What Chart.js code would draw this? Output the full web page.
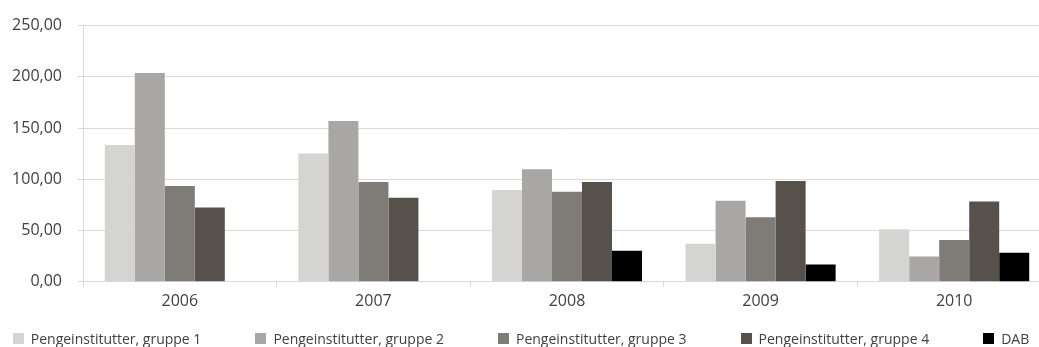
<!DOCTYPE html>
<html>
<head>
<meta charset="utf-8">
<script src="https://cdn.jsdelivr.net/npm/chart.js@4/dist/chart.umd.min.js"></script>
<style>
  html, body { margin: 0; padding: 0; background: #fff; overflow: hidden; }
  #wrap { position: relative; width: 1051px; height: 347px; }
  #legend {
    position: absolute; left: 0; top: 330px; width: 1042px;
    display: flex; justify-content: center; gap: 54px;
    font-family: "Open Sans", sans-serif; font-size: 14px; color: #404040;
    line-height: 17px; white-space: nowrap;
  }
  #legend .item { display: flex; align-items: center; }
  #legend .box { width: 11px; height: 11px; margin-right: 7px; }
</style>
</head>
<body>
<div id="wrap">
  <canvas id="chart"></canvas>
  <div id="legend"></div>
</div>
<script>
// Years on the category axis
const years = ['2006', '2007', '2008', '2009', '2010'];

// Series values per year
const gruppe1 = [133.5, 125.2, 89.7, 37.1, 51.4];
const gruppe2 = [203.7, 156.8, 109.9, 79.2, 24.6];
const gruppe3 = [93.6, 97.4, 87.8, 62.9, 40.9];
const gruppe4 = [72.5, 82.1, 97.4, 98.4, 78.3];
const dab = [null, null, 30.4, 17.0, 28.4];

// Series names
const seriesNames = [
  'Pengeinstitutter, gruppe 1',
  'Pengeinstitutter, gruppe 2',
  'Pengeinstitutter, gruppe 3',
  'Pengeinstitutter, gruppe 4',
  'DAB'
];
const seriesColors = ['#d4d4d2', '#a8a7a5', '#7f7b77', '#57514c', '#000000'];

// Value axis range
const yMin = 0;
const yMax = 250;
const yStep = 50;

const seriesValues = [gruppe1, gruppe2, gruppe3, gruppe4, dab];

const chart = new Chart(document.getElementById('chart'), {
  type: 'bar',
  data: {
    labels: years,
    datasets: seriesValues.map((vals, i) => ({
      label: seriesNames[i],
      data: vals,
      backgroundColor: seriesColors[i],
      borderWidth: 0,
      categoryPercentage: 0.775,
      barPercentage: 1.0
    }))
  },
  options: {
    responsive: true,
    maintainAspectRatio: false,
    animation: false,
    layout: { padding: { left: 0, right: 0, top: 8, bottom: 31 } },
    plugins: {
      legend: { display: false },
      tooltip: { enabled: false }
    },
    scales: {
      x: {
        offset: true,
        grid: {
          display: true,
          drawOnChartArea: false,
          drawTicks: true,
          tickLength: 5,
          color: '#d9d9d9',
          offset: true
        },
        border: { display: true, color: '#d9d9d9', width: 1 },
        ticks: {
          color: '#404040',
          padding: 5,
          font: { family: '"Open Sans", sans-serif', size: 16 }
        }
      },
      y: {
        min: yMin,
        max: yMax,
        afterFit: (scale) => { scale.width = 83; },
        grid: {
          color: '#d9d9d9',
          lineWidth: 1,
          drawTicks: true,
          tickLength: 5
        },
        border: { display: true, color: '#d9d9d9', width: 1 },
        ticks: {
          stepSize: yStep,
          color: '#404040',
          padding: 16,
          font: { family: '"Open Sans", sans-serif', size: 16 },
          callback: (v) => Number(v).toFixed(2).replace('.', ',')
        }
      }
    }
  }
});

// Legend built from the chart's own datasets
const legendEl = document.getElementById('legend');
chart.data.datasets.forEach((ds) => {
  const item = document.createElement('div');
  item.className = 'item';
  const box = document.createElement('span');
  box.className = 'box';
  box.style.background = ds.backgroundColor;
  const txt = document.createElement('span');
  txt.textContent = ds.label;
  item.appendChild(box);
  item.appendChild(txt);
  legendEl.appendChild(item);
});
</script>
</body>
</html>
